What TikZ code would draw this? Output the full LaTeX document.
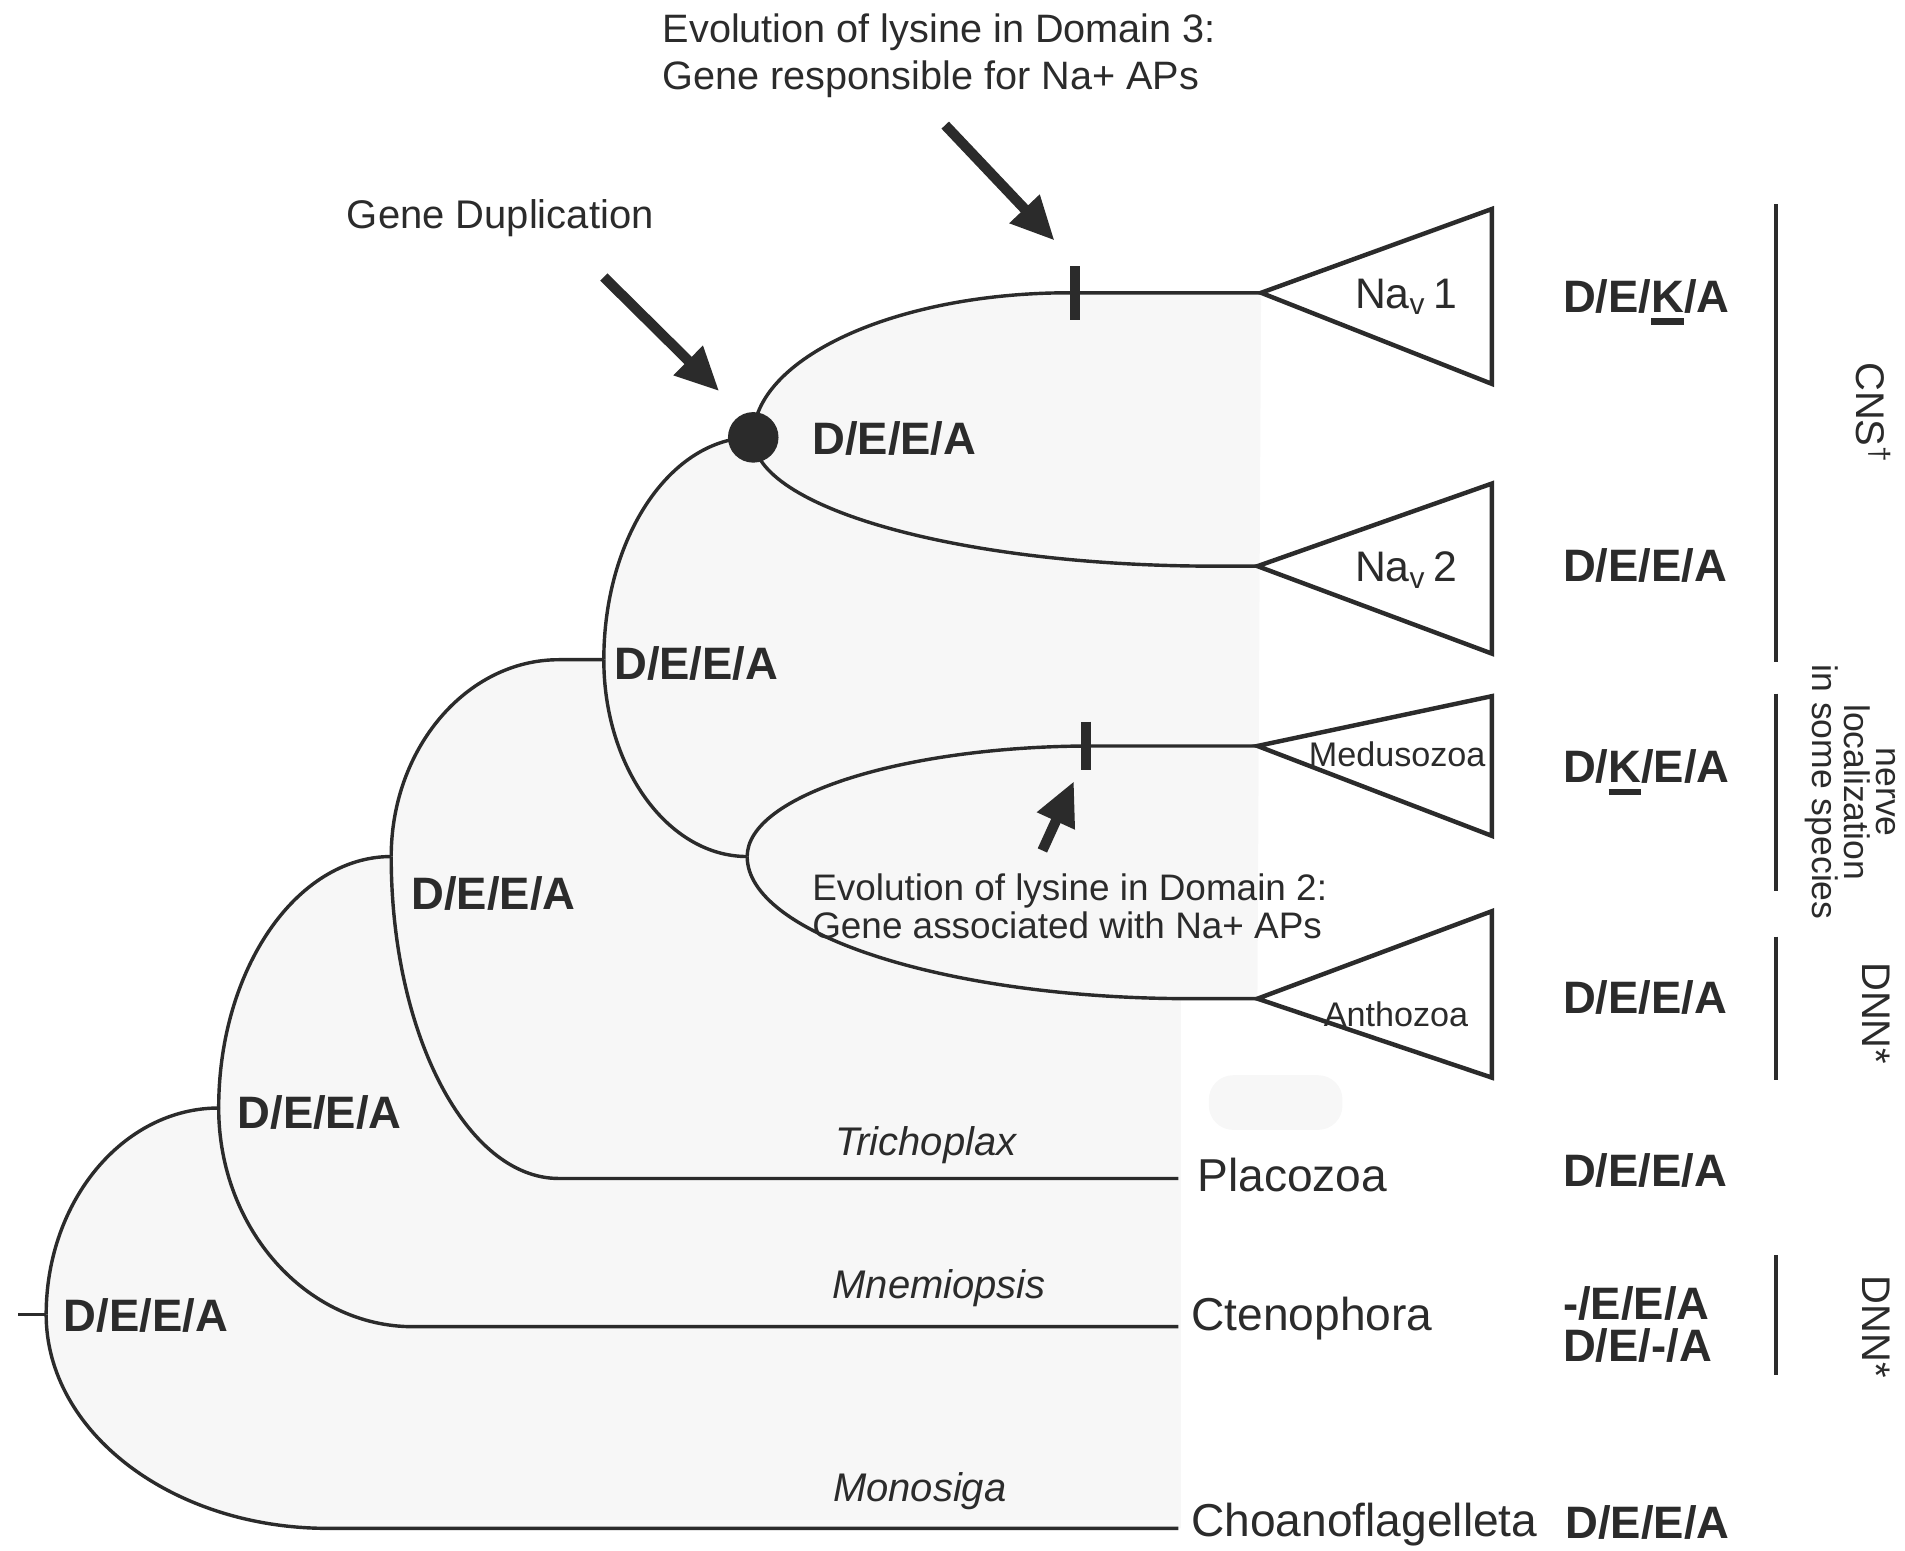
\documentclass[tikz,border=0pt]{standalone}
\usepackage{fontspec}
\setmainfont{Liberation Sans}
\usetikzlibrary{arrows.meta}

\definecolor{ink}{HTML}{2B2B2B}
\definecolor{bgfill}{HTML}{F7F7F7}

% thick underline for the lysine residue
\newcommand{\ulK}{\setbox0\hbox{K}\rlap{\rule[-3.6pt]{\wd0}{1.8pt}}K}

\tikzset{
  branch/.style={draw=ink, line width=1pt},
  clade/.style={draw=ink, line width=1.3pt, fill=white},
  bar/.style={draw=ink, line width=1.2pt},
  tick/.style={draw=ink, line width=3pt},
  bigarrow/.style={draw=ink, line width=3pt, -{Triangle[length=0.45cm,width=0.4cm]}},
  state/.style={font=\fontsize{13.3}{13}\selectfont\bfseries, text=ink, inner sep=0pt, anchor=base west},
  taxon/.style={font=\fontsize{13.5}{15}\selectfont, text=ink, inner sep=0pt, anchor=base west},
  genus/.style={font=\fontsize{11.7}{13}\selectfont\itshape, text=ink, inner sep=0pt, anchor=base},
  note/.style={font=\fontsize{11.6}{13.6}\selectfont, text=ink, inner sep=0pt, align=left, anchor=north west},
  plain/.style={text=ink, inner sep=0pt},
  side/.style={font=\fontsize{11.7}{13}\selectfont, text=ink, inner sep=0pt, rotate=-90},
}

\begin{document}
\begin{tikzpicture}[x=0.0125cm,y=-0.0125cm]
  \useasboundingbox (0,0) rectangle (1568,1276);

  % tree nodes
  \coordinate (stem) at (15,1082);
  \coordinate (root) at (38,1082);
  \coordinate (n1) at (180,912);
  \coordinate (n2) at (322,705);
  \coordinate (n2up) at (460,543);
  \coordinate (n3) at (497,543);
  \coordinate (n4) at (620,360);
  \coordinate (n5) at (615,705);
  % ends of the curved branches
  \coordinate (chob) at (270,1258);
  \coordinate (cteb) at (340,1092);
  \coordinate (plab) at (460,970);
  \coordinate (nav1b) at (880,241);
  \coordinate (nav2b) at (1000,466);
  \coordinate (medb) at (900,614);
  \coordinate (antb) at (980,822);
  % tips
  \coordinate (choa) at (970,1258);
  \coordinate (cten) at (970,1092);
  \coordinate (plac) at (970,970);
  \coordinate (nav1) at (1038,241);
  \coordinate (nav2) at (1035,466);
  \coordinate (medu) at (1035,614);
  \coordinate (anth) at (1035,822);

  % light background of the tree
  \fill[bgfill] (root) .. controls +(0,-94) and +(-78,0) .. (n1)
    .. controls +(0,-114) and +(-78,0) .. (n2)
    .. controls +(0,-89) and +(-76,0) .. (n2up) -- (n3)
    .. controls +(0,-101) and +(-68,0) .. (n4)
    .. controls +(0,-65) and +(-143,0) .. (nav1b) -- (nav1)
    -- (1035,822) -- (972,822) -- (972,1258) -- (chob)
    .. controls +(-128,0) and +(0,97) .. (root) -- cycle;
  \fill[bgfill, rounded corners=0.25cm] (995,885) rectangle (1105,930);

  % branches
  \draw[branch] (stem) -- (root);
  \draw[branch] (root) .. controls +(0,-94) and +(-78,0) .. (n1);
  \draw[branch] (root) .. controls +(0,97) and +(-128,0) .. (chob) -- (choa);
  \draw[branch] (n1) .. controls +(0,-114) and +(-78,0) .. (n2);
  \draw[branch] (n1) .. controls +(0,99) and +(-88,0) .. (cteb) -- (cten);
  \draw[branch] (n2) .. controls +(0,-89) and +(-76,0) .. (n2up) -- (n3);
  \draw[branch] (n2) .. controls +(0,146) and +(-76,0) .. (plab) -- (plac);
  \draw[branch] (n3) .. controls +(0,-101) and +(-68,0) .. (n4);
  \draw[branch] (n3) .. controls +(0,89) and +(-65,0) .. (n5);
  \draw[branch] (n4) .. controls +(0,-65) and +(-143,0) .. (nav1b) -- (nav1);
  \draw[branch] (n4) .. controls +(0,58) and +(-209,0) .. (nav2b) -- (nav2);
  \draw[branch] (n5) .. controls +(0,-50) and +(-157,0) .. (medb) -- (medu);
  \draw[branch] (n5) .. controls +(0,64) and +(-200,0) .. (antb) -- (anth);

  % gene duplication
  \node[circle, fill=ink, inner sep=0pt, minimum size=0.52cm] (dup) at (n4) {};

  % collapsed clades
  \draw[clade] (nav1) -- (1228,172) -- (1228,316) -- cycle;
  \draw[clade] (nav2) -- (1228,398) -- (1228,538) -- cycle;
  \draw[clade] (medu) -- (1228,573) -- (1228,688) -- cycle;
  \draw[clade] (anth) -- (1228,750) -- (1228,887) -- cycle;
  \node (lnav1) at (1200,254)[plain, anchor=base east, font=\fontsize{12.5}{14}\selectfont]{Na\textsubscript{v}\,1};
  \node (lnav2) at (1200,479)[plain, anchor=base east, font=\fontsize{12.5}{14}\selectfont]{Na\textsubscript{v}\,2};
  \node (lmedu) at (1150,621)[plain, font=\fontsize{10}{12}\selectfont]{Medusozoa};
  \node (lanth) at (1149,835)[plain, font=\fontsize{10}{12}\selectfont]{Anthozoa};

  % lysine changes
  \coordinate (d3) at (885,241);
  \coordinate (d2) at (894,614);
  \draw[tick] (d3) ++(0,-22) -- ++(0,44);
  \draw[tick] (d2) ++(0,-20) -- ++(0,40);
  \coordinate (dupTail) at (497,228);
  \coordinate (dupTip) at (592,322);
  \coordinate (d3Tail) at (778,103);
  \coordinate (d3Tip) at (868,198);
  \coordinate (d2Tail) at (858,700);
  \coordinate (d2Tip) at (884,643);
  \draw[bigarrow] (dupTail) -- (dupTip);
  \draw[bigarrow] (d3Tail) -- (d3Tip);
  \draw[bigarrow] (d2Tail) -- (d2Tip);

  % annotations
  \node (top) at (545,11)[note]{Evolution of lysine in Domain 3:\\Gene responsible for Na+ APs};
  \node (gdup) at (285,188)[plain, anchor=base west, font=\fontsize{11.7}{13}\selectfont]{Gene Duplication};
  \node (low) at (668,719)[note, font=\fontsize{10.8}{9.6}\selectfont]{Evolution of lysine in Domain 2:\\Gene associated with Na+ APs};

  % ancestral states
  \node (sroot) at (52,1096)[state]{D/E/E/A};
  \node (sn1) at (195,929)[state]{D/E/E/A};
  \node (sn2) at (338,749)[state]{D/E/E/A};
  \node (sn3) at (505,559)[state]{D/E/E/A};
  \node (sn4) at (668,374)[state]{D/E/E/A};

  % tip states
  \node (snav1) at (1286,257)[state]{D/E/\ulK/A};
  \node (snav2) at (1286,479)[state]{D/E/E/A};
  \node (smedu) at (1286,644)[state]{D/\ulK/E/A};
  \node (santh) at (1286,834)[state]{D/E/E/A};
  \node (splac) at (1286,977)[state]{D/E/E/A};
  \node (scte1) at (1286,1086)[state]{-/E/E/A};
  \node (scte2) at (1286,1121)[state]{D/E/-/A};
  \node (schoa) at (1288,1266)[state]{D/E/E/A};

  % taxa
  \node (tplac) at (985,981)[taxon]{Placozoa};
  \node (tcten) at (980,1095)[taxon]{Ctenophora};
  \node (tchoa) at (980,1265)[taxon]{Choanoflagelleta};
  \node (gplac) at (762,951)[genus]{Trichoplax};
  \node (gcten) at (773,1069)[genus]{Mnemiopsis};
  \node (gchoa) at (757,1236)[genus]{Monosiga};

  % nervous system groups
  \draw[bar] (1462,168) -- (1462,545);
  \draw[bar] (1462,571) -- (1462,733);
  \draw[bar] (1462,771) -- (1462,889);
  \draw[bar] (1462,1033) -- (1462,1132);
  \node (cns) at (1542,340)[side]{CNS\textsuperscript{†}};
  \node (nerve) at (1523,652)[side, align=center, font=\fontsize{10.4}{9.4}\selectfont]{nerve\\localization\\in some species};
  \node (dnn1) at (1544,834)[side]{DNN*};
  \node (dnn2) at (1544,1092)[side]{DNN*};
\end{tikzpicture}
\end{document}
